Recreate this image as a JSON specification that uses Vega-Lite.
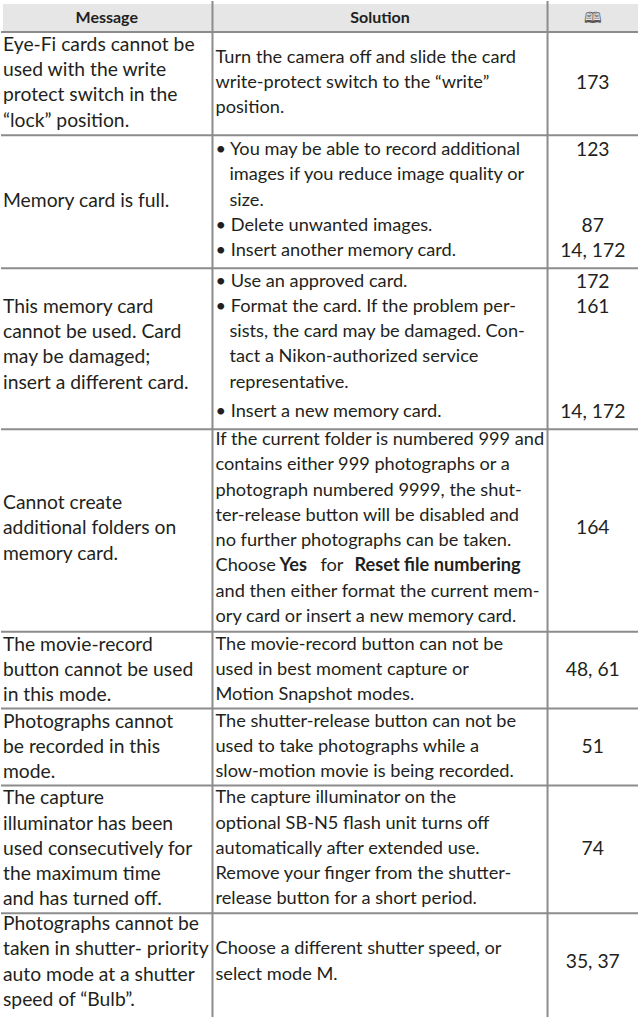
{
  "$schema": "https://vega.github.io/schema/vega-lite/v6.json",
  "width": 639,
  "height": 1018,
  "autosize": {"type": "fit", "contains": "padding"},
  "padding": 0,
  "background": "white",
  "config": {"view": {"stroke": null}, "text": {"font": "Lato", "fontSize": 18.2, "color": "#231f20", "baseline": "middle"}},
  "datasets": {
    "hdr": [{"top": 0.12, "bottom": 1.23}],
    "bounds": [{"b": 1.23}, {"b": 5.32}, {"b": 10.58}, {"b": 16.96}, {"b": 24.98}, {"b": 28.02}, {"b": 31.07}, {"b": 36.13}],
    "cols": [{"e": 33.2}, {"e": 85.8}],
    "cells": [
      {"c": "hm", "y": 0.67, "t": "Message"},
      {"c": "hs", "y": 0.67, "t": "Solution"},
      {"c": "hp", "y": 0.67, "t": "🕮"},
      {"c": "m", "y": 1.74, "t": "Eye-Fi cards cannot be"},
      {"c": "m", "y": 2.74, "t": "used with the write"},
      {"c": "m", "y": 3.74, "t": "protect switch in the"},
      {"c": "m", "y": 4.74, "t": "“lock” position."},
      {"c": "s", "y": 2.24, "t": "Turn the camera off and slide the card"},
      {"c": "s", "y": 3.24, "t": "write-protect switch to the “write”"},
      {"c": "s", "y": 4.24, "t": "position."},
      {"c": "p", "y": 3.24, "t": "173"},
      {"c": "m", "y": 7.91, "t": "Memory card is full."},
      {"c": "s", "y": 5.91, "t": "• You may be able to record additional"},
      {"c": "si", "y": 6.91, "t": "images if you reduce image quality or"},
      {"c": "si", "y": 7.91, "t": "size."},
      {"c": "s", "y": 8.91, "t": "• Delete unwanted images."},
      {"c": "s", "y": 9.91, "t": "• Insert another memory card."},
      {"c": "p", "y": 5.91, "t": "123"},
      {"c": "p", "y": 8.91, "t": "87"},
      {"c": "p", "y": 9.91, "t": "14, 172"},
      {"c": "s", "y": 11.11, "t": "• Use an approved card."},
      {"c": "s", "y": 12.11, "t": "• Format the card. If the problem per-"},
      {"c": "si", "y": 13.11, "t": "sists, the card may be damaged. Con-"},
      {"c": "si", "y": 14.11, "t": "tact a Nikon-authorized service"},
      {"c": "si", "y": 15.11, "t": "representative."},
      {"c": "s", "y": 16.28, "t": "• Insert a new memory card."},
      {"c": "m", "y": 12.11, "t": "This memory card"},
      {"c": "m", "y": 13.11, "t": "cannot be used. Card"},
      {"c": "m", "y": 14.11, "t": "may be damaged;"},
      {"c": "m", "y": 15.11, "t": "insert a different card."},
      {"c": "p", "y": 11.11, "t": "172"},
      {"c": "p", "y": 12.11, "t": "161"},
      {"c": "p", "y": 16.28, "t": "14, 172"},
      {"c": "s", "y": 17.39, "t": "If the current folder is numbered 999 and"},
      {"c": "s", "y": 18.39, "t": "contains either 999 photographs or a"},
      {"c": "s", "y": 19.39, "t": "photograph numbered 9999, the shut-"},
      {"c": "s", "y": 20.39, "t": "ter-release button will be disabled and"},
      {"c": "s", "y": 21.39, "t": "no further photographs can be taken."},
      {"c": "s1", "y": 22.39, "t": "Choose"},
      {"c": "sb1", "y": 22.39, "t": "Yes"},
      {"c": "s2", "y": 22.39, "t": "for"},
      {"c": "sb2", "y": 22.39, "t": "Reset file numbering"},
      {"c": "s", "y": 23.39, "t": "and then either format the current mem-"},
      {"c": "s", "y": 24.39, "t": "ory card or insert a new memory card."},
      {"c": "m", "y": 19.89, "t": "Cannot create"},
      {"c": "m", "y": 20.89, "t": "additional folders on"},
      {"c": "m", "y": 21.89, "t": "memory card."},
      {"c": "p", "y": 20.89, "t": "164"},
      {"c": "m", "y": 25.49, "t": "The movie-record"},
      {"c": "m", "y": 26.49, "t": "button cannot be used"},
      {"c": "m", "y": 27.49, "t": "in this mode."},
      {"c": "s", "y": 25.49, "t": "The movie-record button can not be"},
      {"c": "s", "y": 26.49, "t": "used in best moment capture or"},
      {"c": "s", "y": 27.49, "t": "Motion Snapshot modes."},
      {"c": "p", "y": 26.49, "t": "48, 61"},
      {"c": "m", "y": 28.54, "t": "Photographs cannot"},
      {"c": "m", "y": 29.54, "t": "be recorded in this"},
      {"c": "m", "y": 30.54, "t": "mode."},
      {"c": "s", "y": 28.54, "t": "The shutter-release button can not be"},
      {"c": "s", "y": 29.54, "t": "used to take photographs while a"},
      {"c": "s", "y": 30.54, "t": "slow-motion movie is being recorded."},
      {"c": "p", "y": 29.54, "t": "51"},
      {"c": "m", "y": 31.58, "t": "The capture"},
      {"c": "m", "y": 32.58, "t": "illuminator has been"},
      {"c": "m", "y": 33.58, "t": "used consecutively for"},
      {"c": "m", "y": 34.58, "t": "the maximum time"},
      {"c": "m", "y": 35.58, "t": "and has turned off."},
      {"c": "s", "y": 31.58, "t": "The capture illuminator on the"},
      {"c": "s", "y": 32.58, "t": "optional SB-N5 flash unit turns off"},
      {"c": "s", "y": 33.58, "t": "automatically after extended use."},
      {"c": "s", "y": 34.58, "t": "Remove your finger from the shutter-"},
      {"c": "s", "y": 35.58, "t": "release button for a short period."},
      {"c": "p", "y": 33.58, "t": "74"},
      {"c": "m", "y": 36.56, "t": "Photographs cannot be"},
      {"c": "m", "y": 37.56, "t": "taken in shutter- priority"},
      {"c": "m", "y": 38.56, "t": "auto mode at a shutter"},
      {"c": "m", "y": 39.56, "t": "speed of  “Bulb”."},
      {"c": "s", "y": 37.56, "t": "Choose a different shutter speed, or"},
      {"c": "s", "y": 38.56, "t": "select mode M."},
      {"c": "p", "y": 38.06, "t": "35, 37"}
    ]
  },
  "layer": [
    {
      "data": {"name": "hdr"},
      "mark": {"type": "rect", "fill": "#e6e6e6"},
      "encoding": {
        "x": {"datum": 0.3, "type": "quantitative", "scale": {"domain": [0, 100], "nice": false, "zero": false}, "axis": null},
        "x2": {"datum": 100},
        "y": {"field": "top", "type": "quantitative", "scale": {"domain": [0, 40.24], "nice": false, "zero": false, "reverse": true}, "axis": null},
        "y2": {"field": "bottom"}
      }
    },
    {
      "data": {"name": "bounds"},
      "mark": {"type": "rule", "stroke": "#8c8c8c", "strokeWidth": 2},
      "encoding": {
        "x": {"datum": 0, "type": "quantitative", "scale": {"domain": [0, 100], "nice": false, "zero": false}, "axis": null},
        "x2": {"datum": 100},
        "y": {"field": "b", "type": "quantitative", "scale": {"domain": [0, 40.24], "nice": false, "zero": false, "reverse": true}, "axis": null}
      }
    },
    {
      "data": {"name": "cols"},
      "mark": {"type": "rule", "stroke": "#8c8c8c", "strokeWidth": 2},
      "encoding": {
        "x": {"field": "e", "type": "quantitative", "scale": {"domain": [0, 100], "nice": false, "zero": false}, "axis": null},
        "y": {"datum": 0, "type": "quantitative", "scale": {"domain": [0, 40.24], "nice": false, "zero": false, "reverse": true}, "axis": null},
        "y2": {"datum": 40.24}
      }
    },
    {
      "data": {"name": "cells"},
      "transform": [{"filter": "datum.c == 'hm'"}],
      "mark": {"type": "text", "align": "center", "fontWeight": "bold", "fontSize": 16},
      "encoding": {
        "x": {"datum": 16.6, "type": "quantitative", "scale": {"domain": [0, 100], "nice": false, "zero": false}, "axis": null},
        "y": {"field": "y", "type": "quantitative", "scale": {"domain": [0, 40.24], "nice": false, "zero": false, "reverse": true}, "axis": null},
        "text": {"field": "t"}
      }
    },
    {
      "data": {"name": "cells"},
      "transform": [{"filter": "datum.c == 'hs'"}],
      "mark": {"type": "text", "align": "center", "fontWeight": "bold", "fontSize": 16},
      "encoding": {
        "x": {"datum": 59.5, "type": "quantitative", "scale": {"domain": [0, 100], "nice": false, "zero": false}, "axis": null},
        "y": {"field": "y", "type": "quantitative", "scale": {"domain": [0, 40.24], "nice": false, "zero": false, "reverse": true}, "axis": null},
        "text": {"field": "t"}
      }
    },
    {
      "data": {"name": "cells"},
      "transform": [{"filter": "datum.c == 'hp'"}],
      "mark": {"type": "text", "align": "center", "fontSize": 15, "font": "DejaVu Sans", "color": "#555555"},
      "encoding": {
        "x": {"datum": 92.9, "type": "quantitative", "scale": {"domain": [0, 100], "nice": false, "zero": false}, "axis": null},
        "y": {"field": "y", "type": "quantitative", "scale": {"domain": [0, 40.24], "nice": false, "zero": false, "reverse": true}, "axis": null},
        "text": {"field": "t"}
      }
    },
    {
      "data": {"name": "cells"},
      "transform": [{"filter": "datum.c == 'm'"}],
      "mark": {"type": "text", "align": "left", "dx": 2, "fontSize": 19.3},
      "encoding": {
        "x": {"datum": 0, "type": "quantitative", "scale": {"domain": [0, 100], "nice": false, "zero": false}, "axis": null},
        "y": {"field": "y", "type": "quantitative", "scale": {"domain": [0, 40.24], "nice": false, "zero": false, "reverse": true}, "axis": null},
        "text": {"field": "t"}
      }
    },
    {
      "data": {"name": "cells"},
      "transform": [{"filter": "datum.c == 's' || datum.c == 's1'"}],
      "mark": {"type": "text", "align": "left", "dx": 3},
      "encoding": {
        "x": {"datum": 33.2, "type": "quantitative", "scale": {"domain": [0, 100], "nice": false, "zero": false}, "axis": null},
        "y": {"field": "y", "type": "quantitative", "scale": {"domain": [0, 40.24], "nice": false, "zero": false, "reverse": true}, "axis": null},
        "text": {"field": "t"}
      }
    },
    {
      "data": {"name": "cells"},
      "transform": [{"filter": "datum.c == 'si'"}],
      "mark": {"type": "text", "align": "left", "dx": 17},
      "encoding": {
        "x": {"datum": 33.2, "type": "quantitative", "scale": {"domain": [0, 100], "nice": false, "zero": false}, "axis": null},
        "y": {"field": "y", "type": "quantitative", "scale": {"domain": [0, 40.24], "nice": false, "zero": false, "reverse": true}, "axis": null},
        "text": {"field": "t"}
      }
    },
    {
      "data": {"name": "cells"},
      "transform": [{"filter": "datum.c == 'sb1'"}],
      "mark": {"type": "text", "align": "left", "dx": 67, "fontWeight": "bold"},
      "encoding": {
        "x": {"datum": 33.2, "type": "quantitative", "scale": {"domain": [0, 100], "nice": false, "zero": false}, "axis": null},
        "y": {"field": "y", "type": "quantitative", "scale": {"domain": [0, 40.24], "nice": false, "zero": false, "reverse": true}, "axis": null},
        "text": {"field": "t"}
      }
    },
    {
      "data": {"name": "cells"},
      "transform": [{"filter": "datum.c == 's2'"}],
      "mark": {"type": "text", "align": "left", "dx": 108},
      "encoding": {
        "x": {"datum": 33.2, "type": "quantitative", "scale": {"domain": [0, 100], "nice": false, "zero": false}, "axis": null},
        "y": {"field": "y", "type": "quantitative", "scale": {"domain": [0, 40.24], "nice": false, "zero": false, "reverse": true}, "axis": null},
        "text": {"field": "t"}
      }
    },
    {
      "data": {"name": "cells"},
      "transform": [{"filter": "datum.c == 'sb2'"}],
      "mark": {"type": "text", "align": "left", "dx": 142, "fontWeight": "bold"},
      "encoding": {
        "x": {"datum": 33.2, "type": "quantitative", "scale": {"domain": [0, 100], "nice": false, "zero": false}, "axis": null},
        "y": {"field": "y", "type": "quantitative", "scale": {"domain": [0, 40.24], "nice": false, "zero": false, "reverse": true}, "axis": null},
        "text": {"field": "t"}
      }
    },
    {
      "data": {"name": "cells"},
      "transform": [{"filter": "datum.c == 'p'"}],
      "mark": {"type": "text", "align": "center", "fontSize": 19.3},
      "encoding": {
        "x": {"datum": 92.9, "type": "quantitative", "scale": {"domain": [0, 100], "nice": false, "zero": false}, "axis": null},
        "y": {"field": "y", "type": "quantitative", "scale": {"domain": [0, 40.24], "nice": false, "zero": false, "reverse": true}, "axis": null},
        "text": {"field": "t"}
      }
    }
  ]
}
